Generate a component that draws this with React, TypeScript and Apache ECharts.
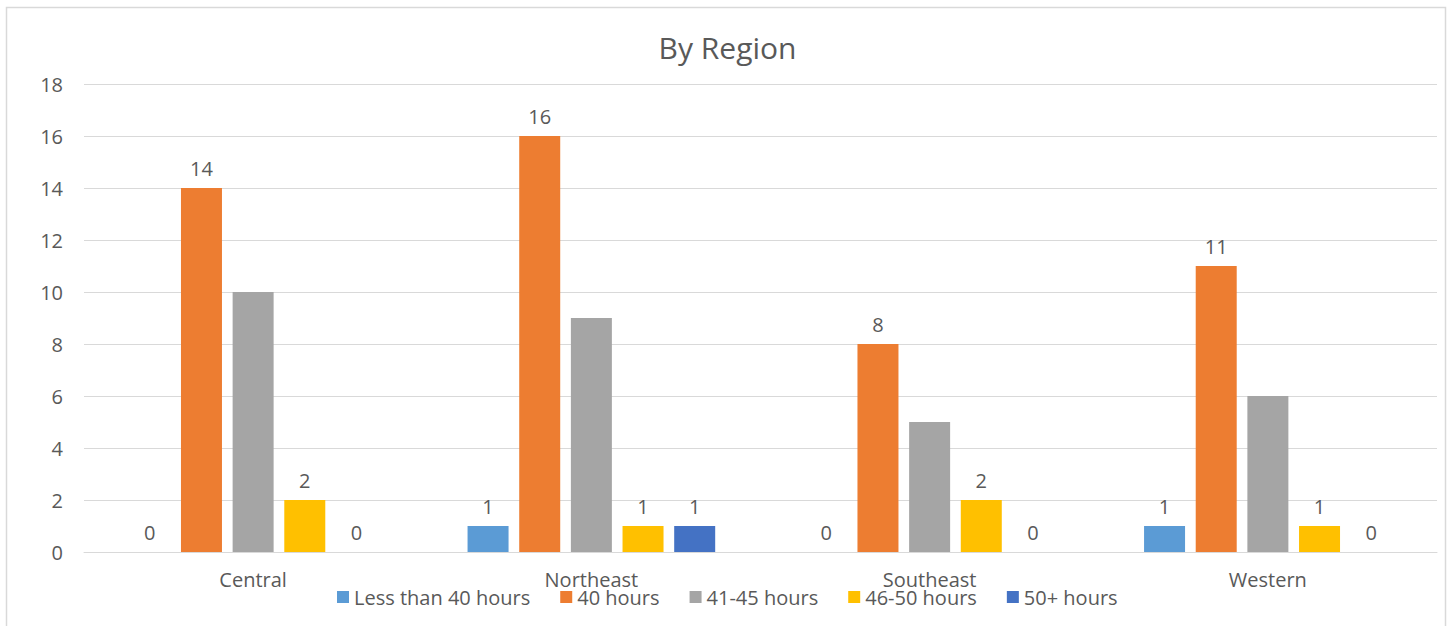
import React, { useEffect, useRef } from "react";
import * as echarts from "echarts";

const categories = ["Central", "Northeast", "Southeast", "Western"];
const seriesNames = ["Less than 40 hours", "40 hours", "41-45 hours", "46-50 hours", "50+ hours"];
const lessThan40 = [0, 1, 0, 1];
const hours40 = [14, 16, 8, 11];
const hours41to45 = [10, 9, 5, 6];
const hours46to50 = [2, 1, 2, 1];
const hours50plus = [0, 1, 0, 0];
const seriesValues = [lessThan40, hours40, hours41to45, hours46to50, hours50plus];
const seriesColors = ["#5B9BD5", "#ED7D31", "#A5A5A5", "#FFC000", "#4472C4"];
const showLabels = [true, true, false, true, true];
const yTicks = { min: 0, max: 18, interval: 2 };

const FONT = "'Open Sans', 'Noto Sans', sans-serif";
const TEXT = "#595959";

export default function App() {
  const ref = useRef<HTMLDivElement>(null);
  useEffect(() => {
    document.body.style.margin = "0";
    if (!ref.current) return;
    const chart = echarts.init(ref.current, null, { renderer: "svg" });
    chart.setOption({
      animation: false,
      backgroundColor: "#ffffff",
      textStyle: { fontFamily: FONT },
      title: {
        text: "By Region",
        left: "center",
        top: 27,
        textStyle: { fontFamily: FONT, fontSize: 30, fontWeight: "normal", color: TEXT },
      },
      graphic: [
        {
          type: "rect",
          shape: { x: 6.5, y: 7.5, width: 1439, height: 650 },
          style: { fill: "none", stroke: "#D9D9D9", lineWidth: 1.5 },
          silent: true,
          z: -1,
        },
      ],
      legend: {
        data: seriesNames,
        left: 332,
        top: 582,
        itemWidth: 12,
        itemHeight: 12,
        itemGap: 30,
        icon: "rect",
        textStyle: { fontFamily: FONT, fontSize: 20, color: TEXT, lineHeight: 20 },
      },
      grid: { left: 84, right: 18, top: 84, bottom: 74, containLabel: false },
      xAxis: {
        type: "category",
        data: categories,
        axisLine: { show: true, lineStyle: { color: "#D9D9D9", width: 1 } },
        axisTick: { show: false },
        axisLabel: { fontFamily: FONT, fontSize: 20, color: TEXT, margin: 17, lineHeight: 20 },
      },
      yAxis: {
        type: "value",
        min: yTicks.min,
        max: yTicks.max,
        interval: yTicks.interval,
        axisLine: { show: false },
        axisTick: { show: false },
        splitLine: { lineStyle: { color: "#D9D9D9", width: 1 } },
        axisLabel: { fontFamily: FONT, fontSize: 20, color: TEXT, margin: 21 },
      },
      series: seriesNames.map((name, i) => ({
        name,
        type: "bar",
        data: seriesValues[i],
        barWidth: 41,
        barGap: "26%",
        itemStyle: { color: seriesColors[i] },
        label: {
          show: showLabels[i],
          position: "top",
          distance: 10,
          fontFamily: FONT,
          fontSize: 20,
          color: TEXT,
        },
      })),
    });
    return () => chart.dispose();
  }, []);
  return <div ref={ref} style={{ width: 1455, height: 626 }} />;
}
